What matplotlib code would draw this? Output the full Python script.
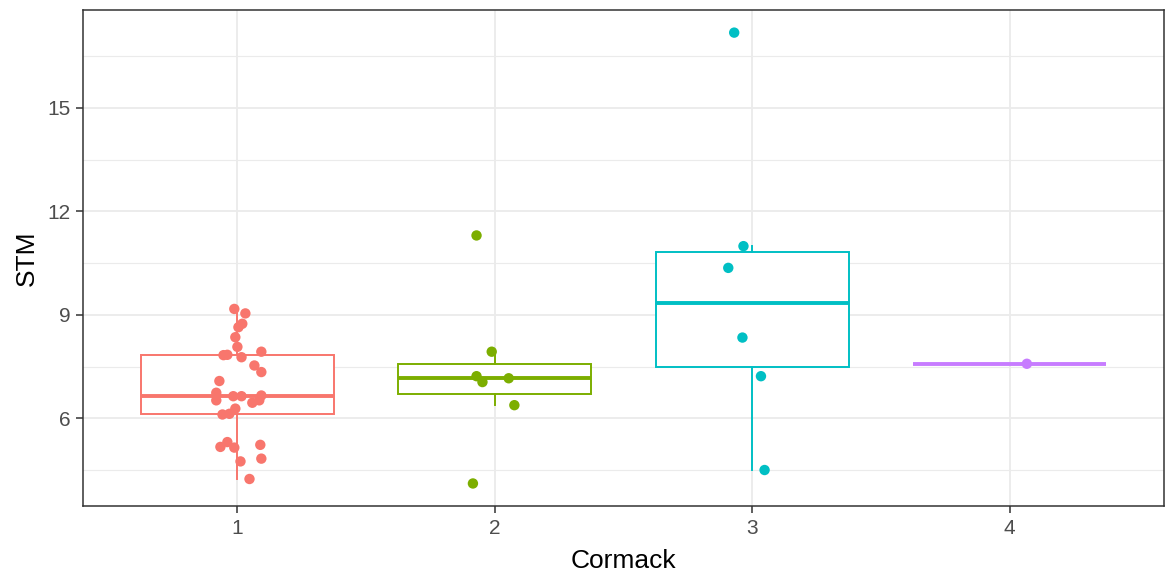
import numpy as np
import matplotlib
matplotlib.use("Agg")
import matplotlib.pyplot as plt

plt.rcParams["font.family"] = ["Liberation Sans", "DejaVu Sans"]

# ── data: STM per Cormack grade, with the horizontal jitter of each point ──
groups = ["1", "2", "3", "4"]
colors = ["#F8766D", "#7CAE00", "#00BFC4", "#C77CFF"]

stm_1 = [9.17, 9.04, 8.74, 8.64, 8.35, 8.07, 7.83, 7.84, 7.77, 7.93,
         7.53, 7.34, 7.08, 6.74, 6.52, 6.64, 6.64, 6.45, 6.52, 6.66,
         6.11, 6.13, 6.28, 5.17, 5.31, 5.15, 5.23, 4.75, 4.83, 4.24]
jit_1 = [-0.012, 0.031, 0.019, 0.004, -0.008, 0.000, -0.054, -0.039, 0.016, 0.093,
         0.066, 0.093, -0.070, -0.082, -0.082, -0.016, 0.016, 0.058, 0.085, 0.093,
         -0.058, -0.031, -0.008, -0.066, -0.039, -0.012, 0.089, 0.012, 0.093, 0.047]

stm_2 = [11.30, 7.93, 7.22, 7.05, 7.16, 6.38, 4.11]
jit_2 = [-0.071, -0.012, -0.071, -0.048, 0.054, 0.076, -0.085]

stm_3 = [17.18, 10.99, 10.36, 8.34, 7.22, 4.50]
jit_3 = [-0.070, -0.034, -0.093, -0.038, 0.034, 0.048]

stm_4 = [7.58]
jit_4 = [0.067]

values = [stm_1, stm_2, stm_3, stm_4]
jitter = [jit_1, jit_2, jit_3, jit_4]

# ── figure ─────────────────────────────────────────────────────────────────
fig = plt.figure(figsize=(11.65, 5.76), dpi=100)
ax = fig.add_axes([0.0712, 0.1215, 0.928, 0.861])

pos = np.arange(1, len(groups) + 1)
for i, (vals, col) in enumerate(zip(values, colors)):
    ax.boxplot([vals], positions=[pos[i]], widths=0.75, showfliers=False,
               showcaps=False, patch_artist=True,
               boxprops=dict(facecolor="white", edgecolor=col, linewidth=1.4),
               whiskerprops=dict(color=col, linewidth=1.4),
               medianprops=dict(color=col, linewidth=2.8, solid_capstyle="butt"),
               zorder=2)
    xs = pos[i] + np.array(jitter[i])
    ax.scatter(xs, vals, s=56, color=col, edgecolors="none", zorder=3)

allv = np.concatenate([np.array(v) for v in values])
lo, hi = allv.min(), allv.max()
pad = 0.05 * (hi - lo)
ax.set_ylim(lo - pad, hi + pad)
ax.set_xlim(0.4, len(groups) + 0.6)

ax.set_xticks(pos)
ax.set_xticklabels(groups)
ax.set_yticks([6, 9, 12, 15])
ax.set_yticks([4.5, 7.5, 10.5, 13.5, 16.5], minor=True)

# theme_bw-like look
ax.set_axisbelow(True)
ax.grid(True, which="major", color="#EBEBEB", lw=1.3)
ax.grid(True, which="minor", axis="y", color="#EBEBEB", lw=0.8)
ax.tick_params(which="major", length=5, width=1.1, color="#333333",
               labelsize=15, labelcolor="#4D4D4D", pad=4)
ax.tick_params(which="minor", length=0)
for sp in ax.spines.values():
    sp.set_color("#333333")
    sp.set_linewidth(1.1)

ax.set_xlabel("Cormack", fontsize=19, labelpad=8)
ax.set_ylabel("STM", fontsize=19, labelpad=6)

fig.savefig("out.png", dpi=100)
